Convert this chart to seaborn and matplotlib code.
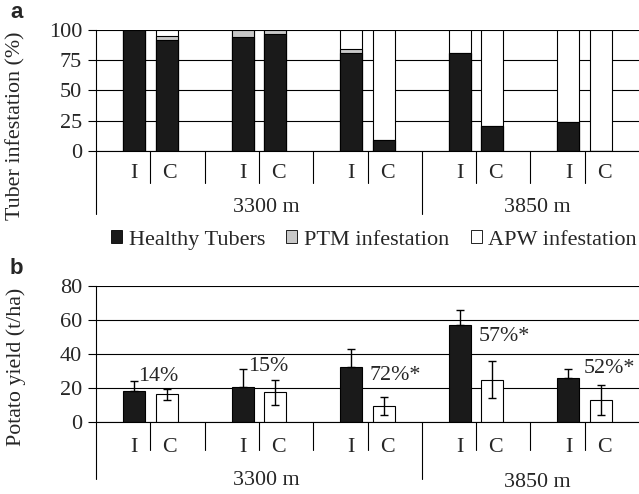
import numpy as np
import pandas as pd
import matplotlib
matplotlib.use('Agg')
import matplotlib.pyplot as plt
import matplotlib.transforms as mtransforms
from matplotlib.patches import Patch
import seaborn as sns

# data
sites = ['s1', 's2', 's3', 's4', 's5']
treatments = ['I', 'C']
altitudes = ['3300 m', '3850 m']

healthy_I = [100, 94, 81, 81, 24]
healthy_C = [92, 97, 9, 21, 0]
ptm_I = [0, 6, 3, 0, 0]
ptm_C = [3, 3, 0, 0, 0]
apw_I = [0, 0, 16, 19, 76]
apw_C = [5, 0, 91, 79, 100]

yield_I = [18.1, 20.6, 32.4, 57.2, 25.6]
yield_C = [16.1, 17.3, 9.1, 24.8, 12.8]
err_I = [6.1, 10.6, 10.3, 8.7, 5.6]
err_C = [3.4, 7.4, 5.4, 11.0, 8.8]
reduction = ['14%', '15%', '72%*', '57%*', '52%*']

sns.set_style('white')
plt.rcParams['font.family'] = ['Liberation Serif', 'DejaVu Serif']
FS = 15.8

W, H = 639, 494
fig = plt.figure(figsize=(W / 100, H / 100), dpi=100)


def fy(px):
    return 1 - px / H


def long_df(vals_I, vals_C, name):
    return pd.DataFrame({
        'site': sites * 2,
        'treatment': ['I'] * 5 + ['C'] * 5,
        name: list(vals_I) + list(vals_C),
    })


infest = long_df(healthy_I, healthy_C, 'healthy')
infest['ptm'] = ptm_I + ptm_C
infest['apw'] = apw_I + apw_C
infest['top'] = infest['healthy'] + infest['ptm'] + infest['apw']
infest['mid'] = infest['healthy'] + infest['ptm']

yld = long_df(yield_I, yield_C, 'yield')

ax_a = fig.add_axes([96 / W, fy(151), 543 / W, 121 / H])
ax_b = fig.add_axes([96 / W, fy(421.7), 543 / W, 135.7 / H])

bar_kw = dict(x='site', hue='treatment', order=sites, hue_order=treatments,
              width=0.6, gap=0.33, edgecolor='black', linewidth=0.8,
              legend=False, errorbar=None)

# stacked bars drawn as overlaid cumulative totals
for col, color in [('top', 'white'), ('mid', '#c8c8c8'), ('healthy', '#1a1a1a')]:
    sns.barplot(data=infest, y=col, palette={'I': color, 'C': color}, ax=ax_a, **bar_kw)

sns.barplot(data=yld, y='yield', palette={'I': '#1a1a1a', 'C': 'white'}, ax=ax_b, **bar_kw)

# error bars at the bar centres (lower half hidden behind the black bars)
bars = sorted(ax_b.patches, key=lambda p: p.get_x())
xs = np.array([p.get_x() + p.get_width() / 2 for p in bars])
x_I, x_C = xs[0::2], xs[1::2]
ax_b.errorbar(x_I, yield_I, yerr=[[0] * 5, err_I], fmt='none', ecolor='black',
              elinewidth=1, capsize=2.6, capthick=1, zorder=5)
ax_b.errorbar(x_C, yield_C, yerr=err_C, fmt='none', ecolor='black',
              elinewidth=1, capsize=2.6, capthick=1, zorder=5)

for ax, ylim, ticks in [(ax_a, 100, [0, 25, 50, 75, 100]), (ax_b, 80, [0, 20, 40, 60, 80])]:
    ax.set_xlim(-0.5, 4.5)
    ax.set_ylim(0, ylim)
    ax.set_yticks(ticks)
    ax.set_xlabel('')
    ax.set_ylabel('')
    ax.yaxis.grid(True, color='black', linewidth=0.8)
    ax.set_axisbelow(True)
    for s in ['top', 'right']:
        ax.spines[s].set_visible(False)
    for s in ['left', 'bottom']:
        ax.spines[s].set_color('black')
        ax.spines[s].set_linewidth(0.8)
    ax.tick_params(axis='y', direction='out', length=6, width=0.8, color='black',
                   pad=4, labelsize=16, left=True)
    ax.tick_params(axis='x', length=0, labelbottom=False)

# multi-level category axis drawn below each panel
levels = {ax_a: (151, 183, 214, 173, 207, 207),
          ax_b: (421.7, 450, 479, 447, 480.5, 482.5)}
for ax, (y0, y1, y2, ylab, yalt1, yalt2) in levels.items():
    tr = mtransforms.blended_transform_factory(ax.transData, fig.transFigure)
    for x in [0, 1, 2, 3, 4, 0.5, 1.5, 3.5]:
        ax.plot([x, x], [fy(y0), fy(y1)], color='black', lw=0.8, transform=tr, clip_on=False)
    for x in [-0.5, 2.5]:
        ax.plot([x, x], [fy(y0), fy(y2)], color='black', lw=0.8, transform=tr, clip_on=False)
    for i in range(5):
        ax.text(i - 0.15, fy(ylab), 'I', transform=tr, ha='center', va='center', fontsize=FS)
        ax.text(i + 0.18, fy(ylab), 'C', transform=tr, ha='center', va='center', fontsize=FS)
    ax.text(1.07, fy(yalt1), altitudes[0], transform=tr, ha='center', va='center', fontsize=FS)
    ax.text(3.56, fy(yalt2), altitudes[1], transform=tr, ha='center', va='center', fontsize=FS)

# yield reduction labels
lab_pos = [(-0.11, 26.5), (0.9, 32.4), (2.02, 27.0), (3.02, 50.5), (3.99, 31.6)]
for txt, (x, y) in zip(reduction, lab_pos):
    ax_b.text(x, y, txt, ha='left', va='center', fontsize=FS)

handles = [Patch(facecolor='#1a1a1a', edgecolor='black', lw=0.6),
           Patch(facecolor='#c8c8c8', edgecolor='black', lw=0.6),
           Patch(facecolor='white', edgecolor='black', lw=0.6)]
fig.legend(handles, ['Healthy Tubers', 'PTM infestation', 'APW infestation'],
           loc='center', bbox_to_anchor=(374 / W, fy(240)), ncol=3, frameon=False,
           fontsize=16, handlelength=0.5, handleheight=0.5, handletextpad=0.3,
           columnspacing=0.95, borderpad=0)

fig.text(16 / W, fy(126), 'Tuber infestation (%)', rotation=90, ha='center', va='center', fontsize=FS)
fig.text(16 / W, fy(367), 'Potato yield (t/ha)', rotation=90, ha='center', va='center', fontsize=FS)
fig.text(10 / W, fy(13), 'a', family=['Liberation Sans', 'DejaVu Sans'], fontweight='bold',
         fontsize=16, ha='left', va='center')
fig.text(10 / W, fy(268), 'b', family=['Liberation Sans', 'DejaVu Sans'], fontweight='bold',
         fontsize=16, ha='left', va='center')

fig.savefig('out.png', dpi=100)
